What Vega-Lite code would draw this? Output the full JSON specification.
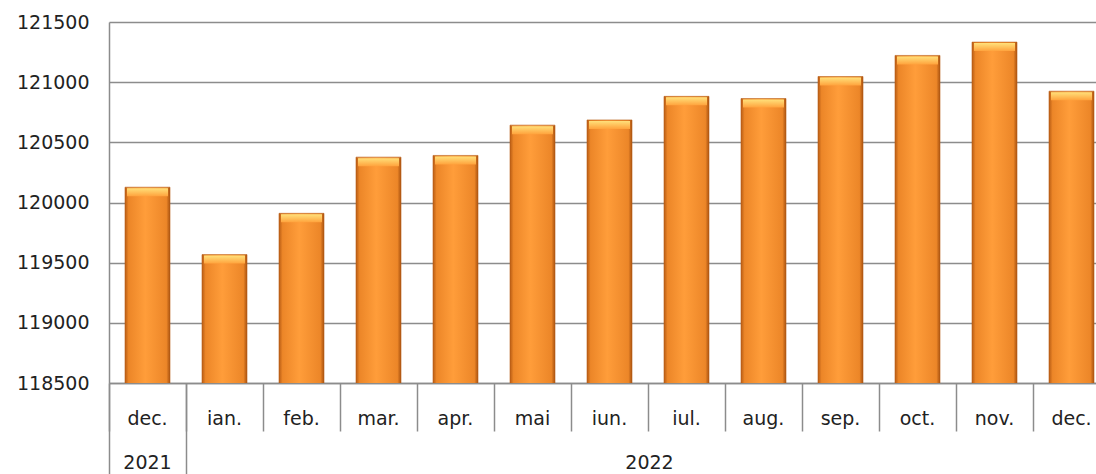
{
  "$schema": "https://vega.github.io/schema/vega-lite/v6.json",
  "autosize": "none",
  "width": 1001,
  "height": 361,
  "padding": {"left": 109, "top": 22, "right": 0, "bottom": 91},
  "background": "white",
  "title": {
    "text": "persoane",
    "anchor": "end",
    "frame": "group",
    "orient": "top",
    "offset": 15,
    "dx": -42,
    "font": "DejaVu Sans",
    "fontSize": 20,
    "fontWeight": "normal",
    "color": "#3a2350"
  },
  "config": {
    "view": {"stroke": null},
    "axis": {"labelFont": "DejaVu Sans", "labelColor": "#222222", "labelFontSize": 19}
  },
  "data": {
    "values": [
      {"id": "dec.2021", "month": "dec.", "year": "2021", "value": 120127},
      {"id": "ian.2022", "month": "ian.", "year": "2022", "value": 119567},
      {"id": "feb.2022", "month": "feb.", "year": "2022", "value": 119910},
      {"id": "mar.2022", "month": "mar.", "year": "2022", "value": 120377},
      {"id": "apr.2022", "month": "apr.", "year": "2022", "value": 120391},
      {"id": "mai.2022", "month": "mai", "year": "2022", "value": 120643},
      {"id": "iun.2022", "month": "iun.", "year": "2022", "value": 120686},
      {"id": "iul.2022", "month": "iul.", "year": "2022", "value": 120882},
      {"id": "aug.2022", "month": "aug.", "year": "2022", "value": 120864},
      {"id": "sep.2022", "month": "sep.", "year": "2022", "value": 121047},
      {"id": "oct.2022", "month": "oct.", "year": "2022", "value": 121222},
      {"id": "nov.2022", "month": "nov.", "year": "2022", "value": 121333},
      {"id": "dec.2022", "month": "dec.", "year": "2022", "value": 120925}
    ]
  },
  "resolve": {"axis": {"x": "independent"}},
  "layer": [
    {
      "mark": {
        "type": "bar",
        "size": 45,
        "clip": true,
        "stroke": "#b8601a",
        "strokeWidth": 0.6,
        "color": {
          "gradient": "linear",
          "x1": 0, "x2": 1, "y1": 0, "y2": 0,
          "stops": [
            {"offset": 0, "color": "#b85c14"},
            {"offset": 0.08, "color": "#ec8628"},
            {"offset": 0.45, "color": "#ff9d3a"},
            {"offset": 0.92, "color": "#ec8628"},
            {"offset": 1, "color": "#a9520f"}
          ]
        }
      },
      "encoding": {
        "x": {
          "field": "id",
          "type": "nominal",
          "sort": null,
          "scale": {"paddingInner": 0, "paddingOuter": 0},
          "axis": {
            "title": null,
            "orient": "bottom",
            "domainColor": "#8c8c8c",
            "domainWidth": 1.5,
            "bandPosition": 0,
            "tickSize": 48,
            "tickColor": "#8c8c8c",
            "tickWidth": 1.5,
            "labelAngle": 0,
            "labelPadding": -22,
            "labelExpr": "split(datum.value, '.')[0] + (indexof(datum.value, 'mai') == 0 ? '' : '.')"
          }
        },
        "y": {
          "field": "value",
          "type": "quantitative",
          "scale": {"domain": [118500, 121500], "zero": false, "nice": false},
          "axis": {
            "title": null,
            "values": [118500, 119000, 119500, 120000, 120500, 121000, 121500],
            "ticks": false,
            "labelPadding": 20,
            "domainColor": "#8c8c8c",
            "domainWidth": 1.5,
            "gridColor": "#8c8c8c",
            "gridWidth": 1.5,
            "format": "d"
          }
        }
      }
    },
    {
      "mark": {
        "type": "bar",
        "size": 45,
        "clip": true,
        "color": {
          "gradient": "linear",
          "x1": 0, "x2": 0, "y1": 0, "y2": 1,
          "stops": [
            {"offset": 0, "color": "rgba(255,160,60,0)"},
            {"offset": 0.5, "color": "rgba(200,100,20,0.04)"},
            {"offset": 1, "color": "rgba(150,60,0,0.3)"}
          ]
        }
      },
      "encoding": {
        "x": {"field": "id", "type": "nominal", "sort": null, "axis": null},
        "y": {
          "field": "value",
          "type": "quantitative",
          "axis": {
            "title": null,
            "values": [118500, 119000, 119500, 120000, 120500, 121000, 121500],
            "ticks": false,
            "labelPadding": 20,
            "domainColor": "#8c8c8c",
            "domainWidth": 1.5,
            "gridColor": "#8c8c8c",
            "gridWidth": 1.5,
            "format": "d"
          }
        }
      }
    },
    {
      "mark": {
        "type": "tick",
        "size": 41,
        "thickness": 8,
        "yOffset": 5,
        "opacity": 1,
        "color": {
          "gradient": "linear",
          "x1": 0, "x2": 0, "y1": 0, "y2": 1,
          "stops": [
            {"offset": 0, "color": "#ffe07a"},
            {"offset": 1, "color": "#ffa33d"}
          ]
        }
      },
      "encoding": {
        "x": {
          "field": "id",
          "type": "nominal",
          "sort": null,
          "axis": {
            "title": null,
            "orient": "bottom",
            "domain": false,
            "values": ["dec.2021", "ian.2022"],
            "bandPosition": 0,
            "tickSize": 91,
            "tickColor": "#8c8c8c",
            "tickWidth": 1.5,
            "labelAngle": 0,
            "labelPadding": -21,
            "labelExpr": "datum.value == 'dec.2021' ? '2021' : '2022'",
            "labelOffset": {"condition": {"test": "datum.value == 'ian.2022'", "value": 425}, "value": 0}
          }
        },
        "y": {
          "field": "value",
          "type": "quantitative",
          "axis": {
            "title": null,
            "values": [118500, 119000, 119500, 120000, 120500, 121000, 121500],
            "ticks": false,
            "labelPadding": 20,
            "domainColor": "#8c8c8c",
            "domainWidth": 1.5,
            "gridColor": "#8c8c8c",
            "gridWidth": 1.5,
            "format": "d"
          }
        }
      }
    }
  ]
}
